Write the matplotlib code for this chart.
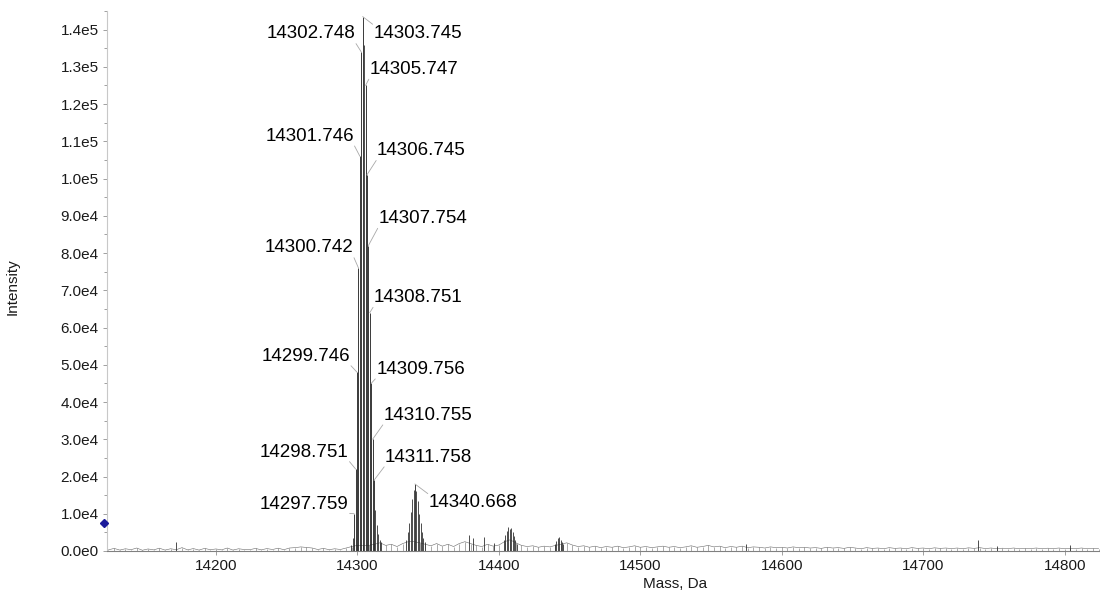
import numpy as np
import matplotlib.pyplot as plt
from matplotlib.ticker import FuncFormatter, MultipleLocator

plt.rcParams['font.family'] = ['Liberation Sans', 'DejaVu Sans']

# labelled peaks: mass (Da) and intensity
label_mass = [14297.759, 14298.751, 14299.746, 14300.742, 14301.746, 14302.748, 14303.745,
              14305.747, 14306.745, 14307.754, 14308.751, 14309.756, 14310.755, 14311.758,
              14340.668]
label_int = [10000, 22000, 48000, 76000, 106000, 134000, 143500,
             125000, 101000, 82000, 64000, 45000, 30000, 19000,
             18000]

# other resolved peaks (not labelled)
peak_mass = [14172.0, 14295.8, 14296.8, 14304.75, 14312.76, 14313.76, 14314.8, 14315.8, 14317.0,
             14334.7, 14335.7, 14336.7, 14337.7, 14338.7, 14339.7, 14341.7, 14342.7, 14343.7,
             14344.7, 14345.7, 14346.7, 14347.7,
             14379.0, 14381.5, 14389.5, 14396.5,
             14403.7, 14404.7, 14405.7, 14406.7, 14407.7, 14408.7, 14409.7, 14410.7, 14411.7, 14412.7,
             14439.7, 14440.7, 14441.7, 14442.7, 14443.7, 14444.7, 14445.7,
             14575.0, 14739.0, 14752.0, 14803.5]
peak_int = [2500, 1500, 3500, 136000, 11000, 7000, 4500, 3000, 2500,
            3000, 5000, 7500, 10500, 14000, 16500, 16000, 13500, 10000,
            7500, 5000, 3500, 2500,
            4300, 3500, 3700, 2100,
            3000, 4200, 5500, 6400, 5800, 6200, 5000, 4000, 3000, 2000,
            2000, 2800, 3500, 3700, 3000, 2500, 1800,
            1800, 3000, 1300, 1500]

# baseline noise, sampled every 4 Da from 14124 to 14824
noise_start, noise_step = 14124, 4
noise_int = [
    300, 700, 250, 600, 350, 800, 200, 550, 300, 750, 250, 600, 350, 900, 300, 650, 250, 700, 350, 550, 300, 800, 250, 600, 400,
    350, 700, 300, 650, 400, 750, 350, 800, 900, 1100, 950, 800, 400, 700, 350, 600, 400, 800, 1200, 1500, 1500, 1500, 1800, 2200, 1500,
    1800, 1200, 2000, 2500, 2500, 2200, 1800, 1400, 2000, 1300, 1800, 1200, 2000, 2500, 2000, 1500, 1200, 1800, 1300, 1600, 2500, 3000, 2200, 1500, 1200,
    1400, 1000, 1300, 1100, 1500, 1800, 2200, 1600, 1200, 1400, 1000, 1300, 900, 1200, 1000, 1300, 900, 1100, 1400, 1000, 1200, 900, 1100, 1300, 1000,
    1200, 900, 1100, 1400, 1000, 1200, 1500, 1100, 1300, 900, 1200, 1000, 1300, 900, 1100, 1000, 800, 1100, 900, 1000, 800, 1100, 900, 1000, 800,
    900, 700, 1000, 800, 900, 700, 1000, 800, 600, 900, 700, 800, 600, 900, 700, 800, 600, 900, 700, 800, 600, 850, 700, 800, 650,
    800, 600, 850, 700, 900, 650, 800, 600, 750, 650, 800, 600, 700, 650, 800, 600, 750, 650, 800, 600, 700, 650, 800, 600, 700, 650,
]
noise_mass = noise_start + noise_step * np.arange(len(noise_int))

# blue marker on the intensity axis
marker_int = 7500

# label placement: offset of text anchor from the peak apex, in pixels (dx, dy up)
label_offsets = [(-6, 9), (-7, 17), (-7, 16), (-5, 20), (-6, 20), (-6, 18), (11, -17),
                 (4, 16), (10, 24), (10, 27), (4, 15), (5, 14), (11, 24), (11, 23),
                 (14, -19)]

fig = plt.figure(figsize=(11, 5.94), dpi=100)
ax = fig.add_axes([0.0973, 0.0724, 0.9027, 0.9091])

ax.vlines(noise_mass, 0, noise_int, color='#8a8a8a', lw=0.5)
ax.plot(noise_mass, noise_int, color='#6a6a6a', lw=0.4)
ax.vlines(peak_mass, 0, peak_int, color='#303030', lw=0.6)
ax.vlines(label_mass, 0, label_int, color='#1a1a1a', lw=0.6)

px2pt = 72 / fig.dpi
for m, v, (dx, dy) in zip(label_mass, label_int, label_offsets):
    left = dx < 0
    ha = 'right' if left else 'left'
    if dy > 0:
        relpos = (1, 0) if left else (0, 0)
    else:
        relpos = (1, 1) if left else (0, 1)
    ax.annotate(f"{m:.3f}", xy=(m, v), xytext=(dx * px2pt, dy * px2pt),
                textcoords='offset points', ha=ha, va='center', fontsize=13.5,
                color='black',
                arrowprops=dict(arrowstyle='-', color='#a8a8a8', lw=0.6,
                                patchA=None, shrinkA=1, shrinkB=0, relpos=relpos))

ax.plot([14121], [marker_int], marker='D', ms=4, color='#1a1a9a', clip_on=False, zorder=5)

ax.set_xlim(14123, 14825)
ax.set_ylim(0, 145000)

ax.xaxis.set_major_locator(MultipleLocator(100))
ax.yaxis.set_major_locator(MultipleLocator(10000))
ax.yaxis.set_minor_locator(MultipleLocator(5000))


def sci(v, pos):
    if v == 0:
        return "0.0e0"
    e = int(np.floor(np.log10(abs(v))))
    return f"{v / 10 ** e:.1f}e{e}"


ax.yaxis.set_major_formatter(FuncFormatter(sci))
ax.tick_params(axis='both', which='major', length=3, width=0.6, color='#909090',
               labelsize=11, labelcolor='#1a1a1a', pad=3)
ax.tick_params(axis='y', which='minor', length=2, width=0.6, color='#909090')

for s in ['top', 'right']:
    ax.spines[s].set_visible(False)
ax.spines['left'].set_color('#c8c8c8')
ax.spines['left'].set_linewidth(0.8)
ax.spines['bottom'].set_color('#808080')
ax.spines['bottom'].set_linewidth(0.8)

ax.set_xlabel("Mass, Da", fontsize=11, color='#1a1a1a')
ax.xaxis.set_label_coords(0.572, -0.048)
ax.set_ylabel("Intensity", fontsize=11, color='#1a1a1a')
ax.yaxis.set_label_coords(-0.088, 0.49)

fig.savefig("out.png", dpi=100)
